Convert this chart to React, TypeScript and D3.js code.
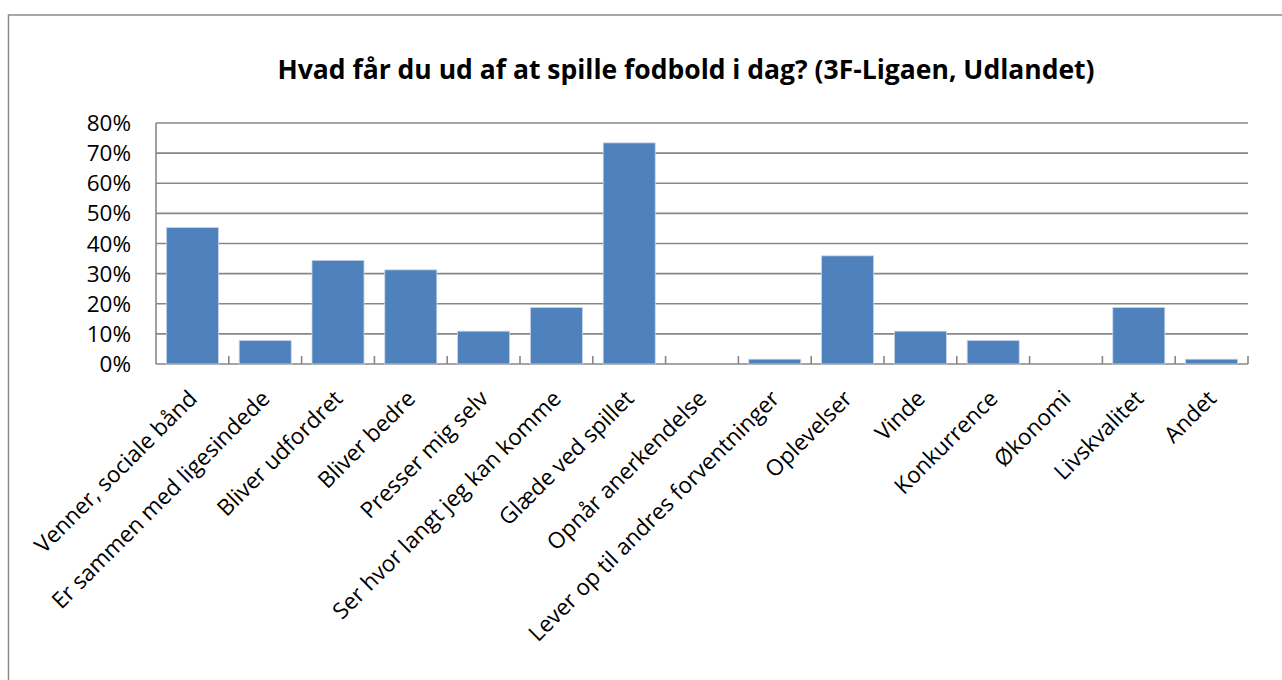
import React from "react";
import * as d3 from "d3";

const categories = [
  "Venner, sociale bånd",
  "Er sammen med ligesindede",
  "Bliver udfordret",
  "Bliver bedre",
  "Presser mig selv",
  "Ser hvor langt jeg kan komme",
  "Glæde ved spillet",
  "Opnår anerkendelse",
  "Lever op til andres forventninger",
  "Oplevelser",
  "Vinde",
  "Konkurrence",
  "Økonomi",
  "Livskvalitet",
  "Andet",
];
const values = [
  0.453, 0.078, 0.344, 0.3125, 0.109, 0.1875, 0.734, 0, 0.016, 0.359, 0.109,
  0.078, 0, 0.1875, 0.016,
];
const yTicks = [0, 0.1, 0.2, 0.3, 0.4, 0.5, 0.6, 0.7, 0.8];
const title = "Hvad får du ud af at spille fodbold i dag? (3F-Ligaen, Udlandet)";

export default function App() {
  const W = 1282;
  const H = 680;
  const left = 156;
  const right = 1248;
  const top = 123;
  const bottom = 364;
  const x = d3
    .scaleBand<string>()
    .domain(categories)
    .range([left, right])
    .paddingInner(0.2857)
    .paddingOuter(0.1429);
  const y = d3.scaleLinear().domain([0, 0.8]).range([bottom, top]);
  const step = x.step();
  const font = "'Open Sans', sans-serif";
  const grid = "#878787";
  return (
    <svg
      width={W}
      height={H}
      style={{ position: "absolute", left: 0, top: 0, background: "#fff" }}
    >
      <rect x={8.5} y={15} width={1300} height={700} fill="#fff" stroke="#8c8c8c" strokeWidth={1.5} />
      <text
        x={686}
        y={79}
        textAnchor="middle"
        fontFamily={font}
        fontWeight="bold"
        fontSize={26.5}
        fill="#000"
      >
        {title}
      </text>
      {yTicks.map((t) => (
        <g key={t}>
          <line x1={left} x2={right} y1={y(t)} y2={y(t)} stroke={grid} strokeWidth={1.6} />
          <text
            x={131}
            y={y(t)}
            dy="0.36em"
            textAnchor="end"
            fontFamily={font}
            fontSize={22.5}
            fill="#000"
          >
            {d3.format(".0%")(t)}
          </text>
        </g>
      ))}
      <line x1={left} x2={left} y1={top} y2={bottom} stroke={grid} strokeWidth={1.6} />
      {categories.map((c, i) => (
        <line
          key={"t" + i}
          x1={left + step * (i + 1)}
          x2={left + step * (i + 1)}
          y1={bottom}
          y2={bottom - 8}
          stroke={grid}
          strokeWidth={1.6}
        />
      ))}
      {categories.map((c, i) =>
        values[i] > 0 ? (
          <rect
            key={"b" + i}
            x={x(c)}
            y={y(values[i])}
            width={x.bandwidth()}
            height={bottom - y(values[i])}
            fill="#4F81BD"
            stroke="#c6d4e8"
            strokeWidth={0.8}
          />
        ) : null
      )}
      {categories.map((c, i) => {
        const cx = (x(c) as number) + x.bandwidth() / 2 + 6;
        const cy = 400;
        return (
          <text
            key={"l" + i}
            transform={`translate(${cx},${cy}) rotate(-45)`}
            textAnchor="end"
            fontFamily={font}
            fontSize={22.5}
            fill="#000"
          >
            {c}
          </text>
        );
      })}
    </svg>
  );
}
